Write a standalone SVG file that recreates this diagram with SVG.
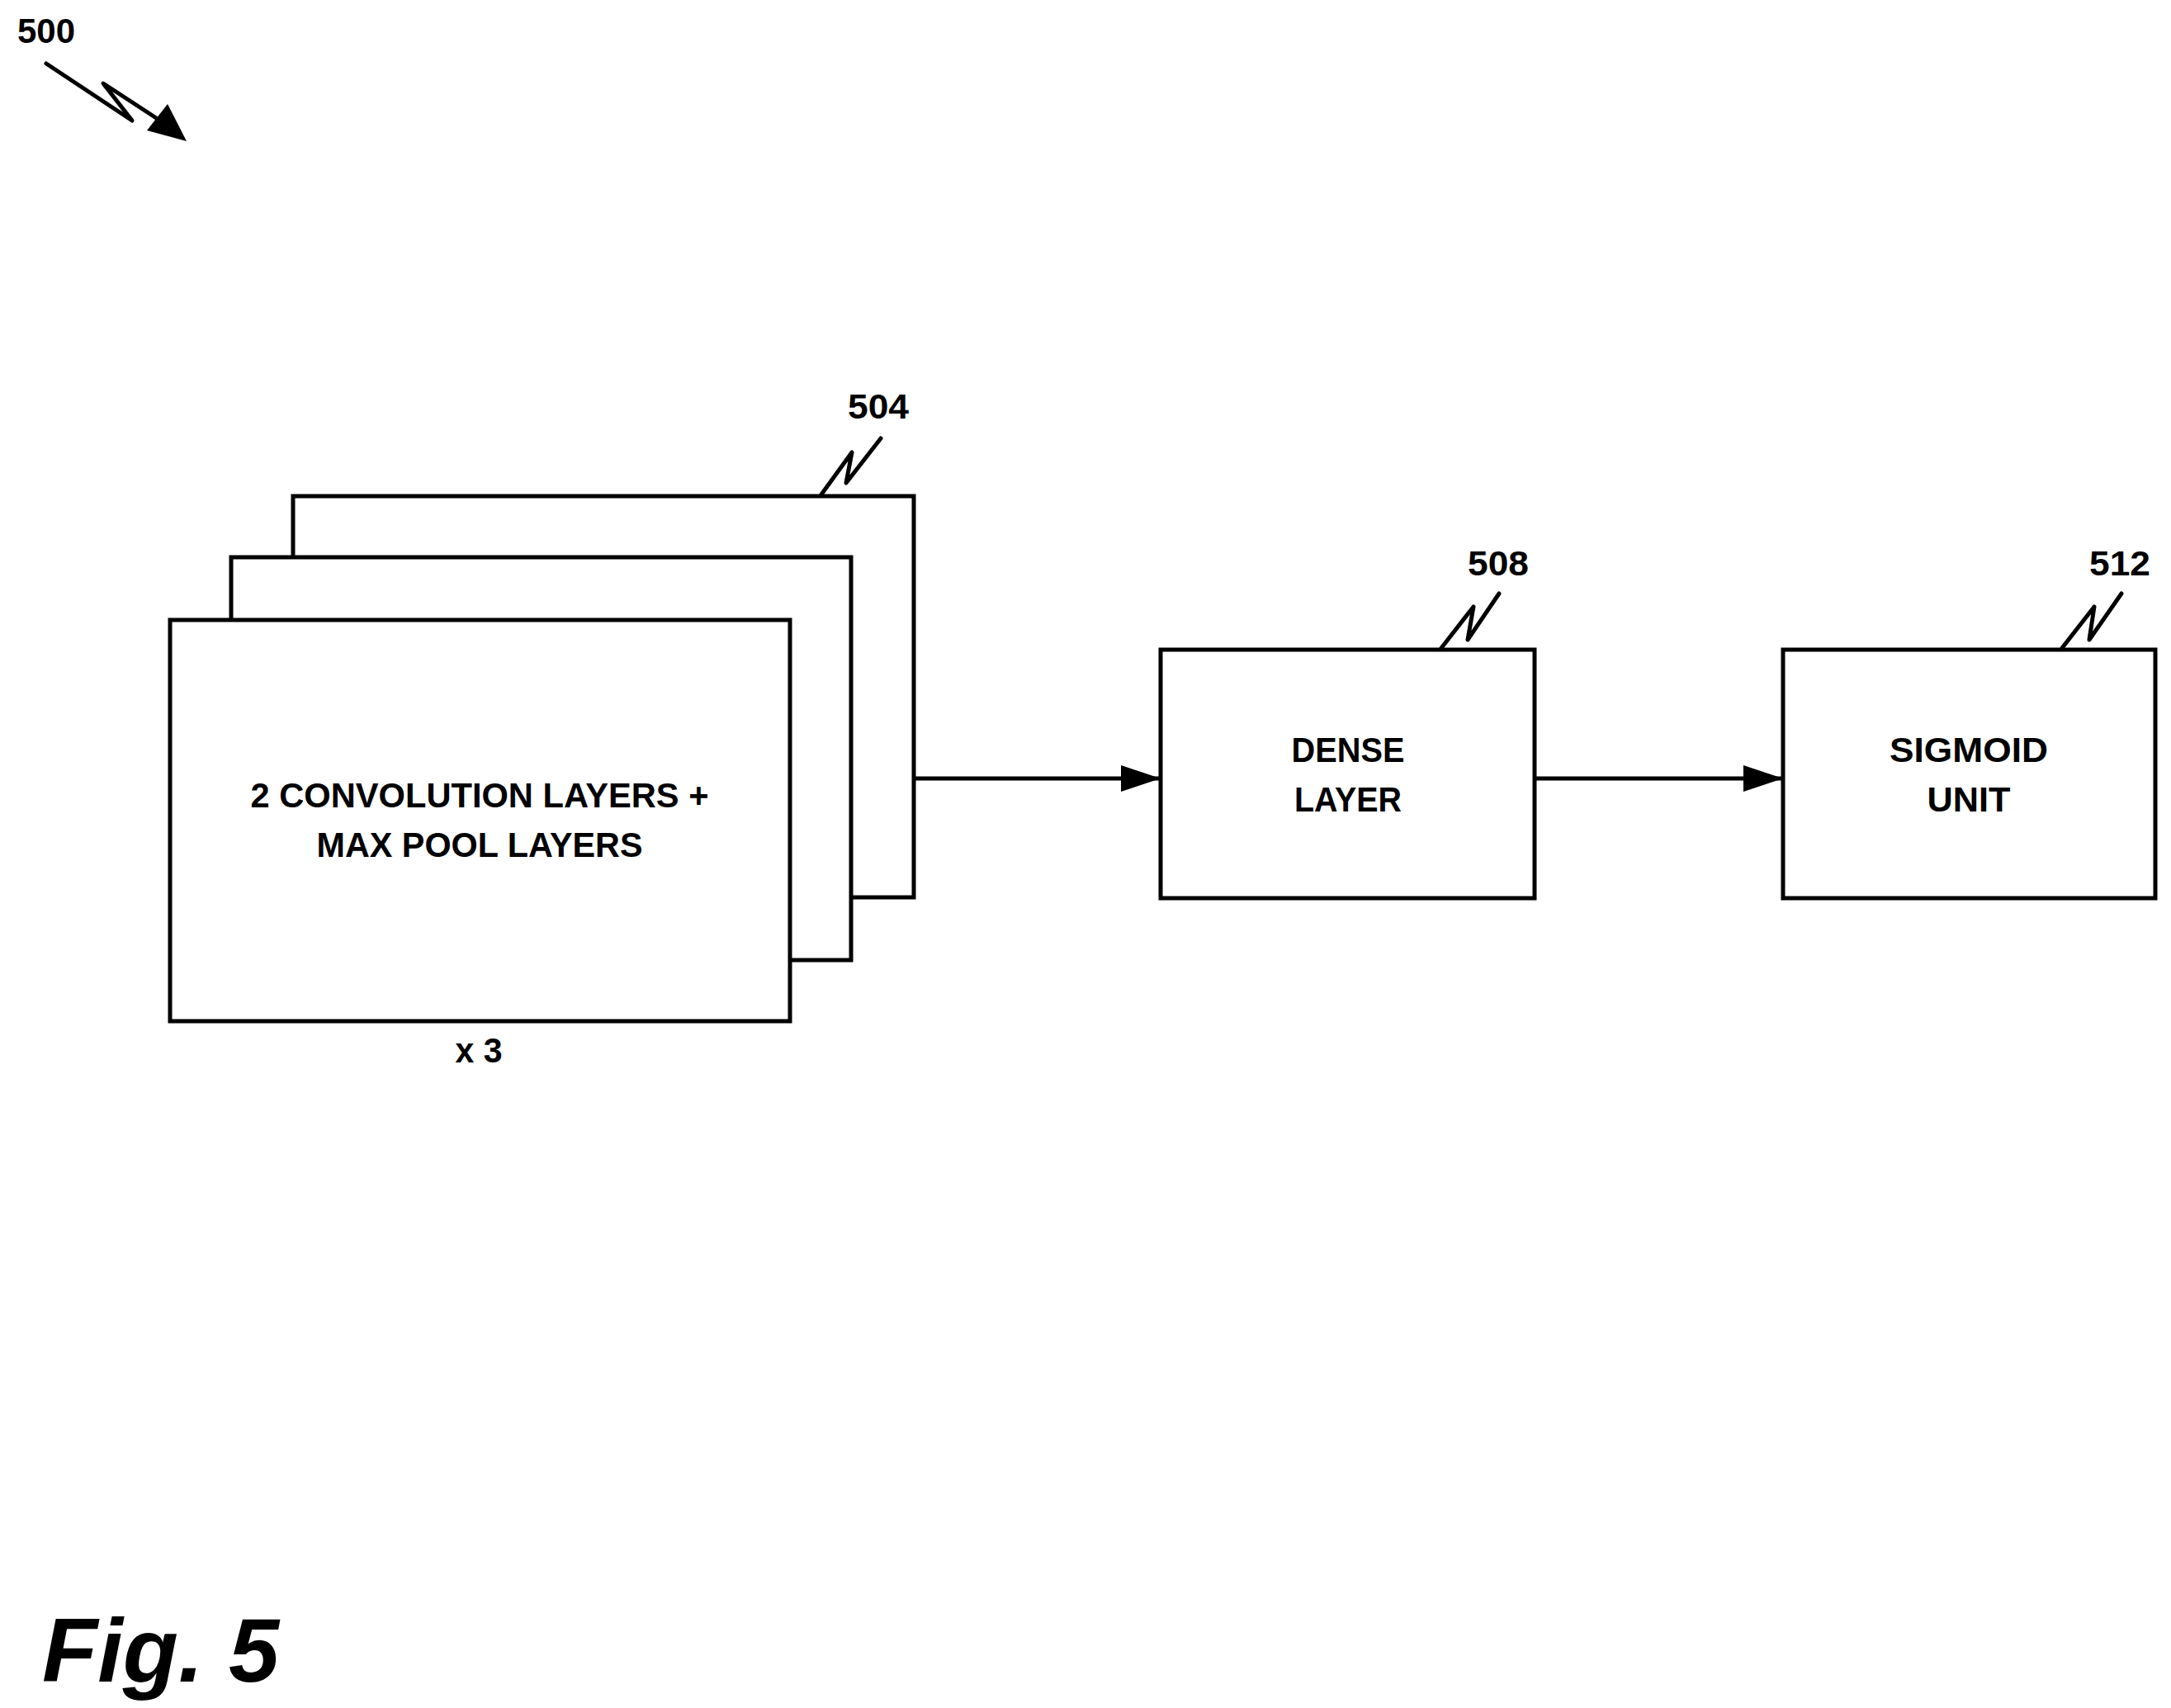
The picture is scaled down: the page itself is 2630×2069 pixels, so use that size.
<svg xmlns="http://www.w3.org/2000/svg" width="2630" height="2069" viewBox="0 0 2630 2069">
<style>
.b{fill:#fff;stroke:#000;stroke-width:5}
.t{font-family:"Liberation Sans",Arial,sans-serif;font-weight:bold;font-size:42px;fill:#000;text-anchor:middle}
.l{fill:none;stroke:#000;stroke-width:5;stroke-linejoin:round;stroke-linecap:round}
</style>
<defs>
<marker id="ah" markerWidth="10" markerHeight="8" refX="10" refY="4" orient="auto" markerUnits="userSpaceOnUse" viewBox="0 0 10 8" style="overflow:visible">
<path d="M0,0 L10,4 L0,8 Z" fill="#000"/>
</marker>
<marker id="ah2" viewBox="0 0 48 32" refX="48" refY="16" markerWidth="48" markerHeight="32" orient="auto" markerUnits="userSpaceOnUse">
<path d="M0,0 L48,16 L0,32 Z" fill="#000"/>
</marker>
</defs>
<g id="label500">
<text class="t" x="56" y="52" font-size="42">500</text>
<path class="l" d="M56,77 L160,146 L125,101 L200,150"/>
<path d="M226,171 L178,158 L203,126 Z" fill="#000"/>
</g>
<g id="node504">
<rect class="b" x="355" y="601" width="752" height="486"/>
<rect class="b" x="280" y="675" width="751" height="488"/>
<rect class="b" x="206" y="751" width="751" height="486"/>
<text class="t" x="581" y="978" textLength="555" lengthAdjust="spacingAndGlyphs">2 CONVOLUTION LAYERS +</text>
<text class="t" x="581" y="1038" textLength="395" lengthAdjust="spacingAndGlyphs">MAX POOL LAYERS</text>
<text class="t" x="580" y="1287" textLength="57" lengthAdjust="spacingAndGlyphs">x 3</text>
<text class="t" x="1064" y="507" textLength="74" lengthAdjust="spacingAndGlyphs">504</text>
<path class="l" d="M995,599 L1032,548 L1025,585 L1067,531"/>
</g>
<g id="node508">
<rect class="b" x="1406" y="787" width="453" height="301"/>
<text class="t" x="1633" y="923" textLength="137" lengthAdjust="spacingAndGlyphs">DENSE</text>
<text class="t" x="1633" y="983" textLength="130" lengthAdjust="spacingAndGlyphs">LAYER</text>
<text class="t" x="1815" y="697" textLength="74" lengthAdjust="spacingAndGlyphs">508</text>
<path class="l" d="M1746,785 L1785,735 L1778,775 L1816,719"/>
</g>
<g id="node512">
<rect class="b" x="2160" y="787" width="451" height="301"/>
<text class="t" x="2385" y="923" textLength="192" lengthAdjust="spacingAndGlyphs">SIGMOID</text>
<text class="t" x="2385" y="983" textLength="101" lengthAdjust="spacingAndGlyphs">UNIT</text>
<text class="t" x="2568" y="697" textLength="74" lengthAdjust="spacingAndGlyphs">512</text>
<path class="l" d="M2498,785 L2537,735 L2531,775 L2570,719"/>
</g>
<g id="connectors">
<line x1="1107" y1="943" x2="1406" y2="943" stroke="#000" stroke-width="5" marker-end="url(#ah2)"/>
<line x1="1859" y1="943" x2="2160" y2="943" stroke="#000" stroke-width="5" marker-end="url(#ah2)"/>
</g>
<text x="51" y="2037" font-family="Liberation Sans,Arial,sans-serif" font-weight="bold" font-style="italic" font-size="110" fill="#000">Fig. 5</text>
</svg>
